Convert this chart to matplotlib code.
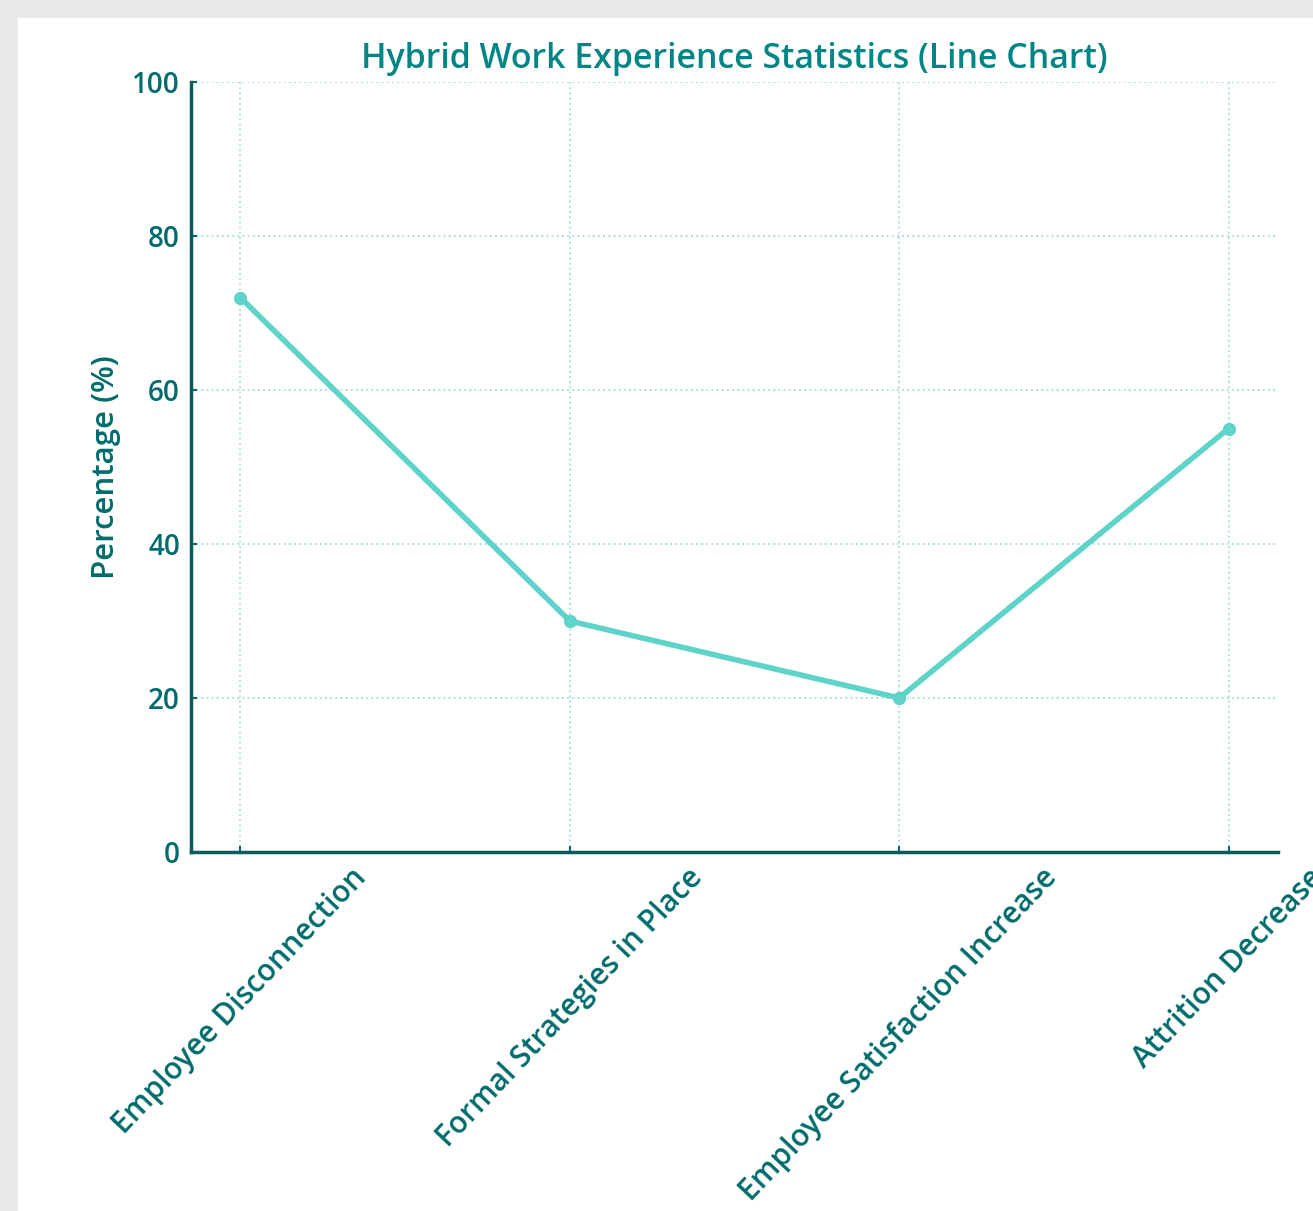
import matplotlib
matplotlib.use("Agg")
import matplotlib.pyplot as plt
from matplotlib.patches import Rectangle

categories = ["Employee Disconnection", "Formal Strategies in Place",
              "Employee Satisfaction Increase", "Attrition Decrease"]
values = [72, 30, 20, 55]
yticks = [0, 20, 40, 60, 80, 100]

plt.rcParams["font.family"] = ["Open Sans", "DejaVu Sans"]
plt.rcParams["font.weight"] = "semibold"

W, H = 1313, 1211
fig = plt.figure(figsize=(W / 100, H / 100), dpi=100, facecolor="#e9e9e9")
fig.patches.append(Rectangle((18 / W, 0), 1 - 18 / W, 1 - 18 / H,
                             transform=fig.transFigure, facecolor="white",
                             edgecolor="none", zorder=-10))

ax = fig.add_axes([191 / W, 1 - 852 / H, (1278 - 191) / W, (852 - 82) / H])
ax.set_facecolor("white")
ax.set_zorder(1)

line_c = "#5ed3c9"
dark = "#006b6b"
x = list(range(len(categories)))
ax.plot(x, values, color=line_c, linewidth=4.0, marker="o", markersize=8.5,
        solid_capstyle="round", zorder=3)

ax.set_xlim(-0.15, 3.15)
ax.set_ylim(0, 100)
ax.set_yticks(yticks)
ax.set_xticks(x)
ax.set_xticklabels(categories, rotation=46.5, ha="center", fontsize=21.5,
                   color=dark, fontweight="semibold")
for lab in ax.get_yticklabels():
    lab.set_fontweight("semibold")
ax.tick_params(axis="y", labelsize=20, labelcolor=dark, pad=8)
ax.tick_params(axis="x", pad=8)
ax.tick_params(direction="in", length=4, width=1.5, color=dark)

ax.grid(True, linestyle=":", color="#b0e0dc", linewidth=1.4)
for s in ["top", "right"]:
    ax.spines[s].set_visible(False)
for s in ["left", "bottom"]:
    ax.spines[s].set_color("#0b5c5c")
    ax.spines[s].set_linewidth(2.5)

ax.set_ylabel("Percentage (%)", fontsize=22.5, color=dark, labelpad=8,
              fontweight="semibold")
ax.set_title("Hybrid Work Experience Statistics (Line Chart)", fontsize=24.4,
             color="#008585", pad=10, fontweight="semibold")

fig.savefig("out.png", dpi=100, facecolor=fig.get_facecolor())
